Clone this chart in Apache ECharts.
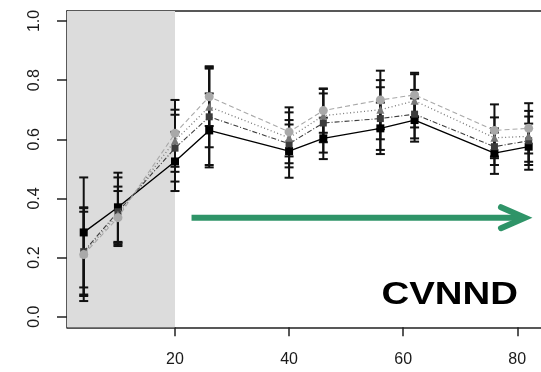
<!DOCTYPE html>
<html>
<head>
<meta charset="utf-8">
<script src="https://cdn.jsdelivr.net/npm/echarts@6/dist/echarts.min.js"></script>
<style>
  html, body { margin: 0; padding: 0; background: #fff; }
  #chart { width: 541px; height: 372px; }
</style>
</head>
<body>
<div id="chart"></div>
<script>
// Sampling times
const times = [4, 10, 20, 26, 40, 46, 56, 62, 76, 82];

// Mean CVNND per treatment, with half-widths of the error bars
const meanA = [0.285, 0.370, 0.525, 0.630, 0.560, 0.603, 0.637, 0.665, 0.553, 0.575];
const errA  = [0.186, 0.117, 0.100, 0.125, 0.090, 0.070, 0.087, 0.073, 0.070, 0.078];
const meanB = [0.220, 0.355, 0.570, 0.676, 0.585, 0.655, 0.670, 0.685, 0.575, 0.595];
const errB  = [0.150, 0.116, 0.113, 0.163, 0.080, 0.100, 0.106, 0.082, 0.062, 0.082];
const meanC = [0.215, 0.345, 0.595, 0.710, 0.605, 0.680, 0.700, 0.730, 0.605, 0.610];
const errC  = [0.140, 0.095, 0.105, 0.137, 0.086, 0.090, 0.100, 0.090, 0.069, 0.086];
const meanD = [0.210, 0.335, 0.620, 0.744, 0.625, 0.697, 0.733, 0.750, 0.630, 0.637];
const errD  = [0.157, 0.090, 0.113, 0.099, 0.083, 0.075, 0.099, 0.075, 0.088, 0.085];

// Axis ticks
const xTicks = [20, 40, 60, 80];
const yTicks = [0, 0.2, 0.4, 0.6, 0.8, 1.0];

// Pre-treatment period (shaded) and the trend arrow
const shadeEnd = 20;
const arrowFrom = 22.9;
const arrowTo = 81.35;
const arrowLevel = 0.335;
const panelLabel = 'CVNND';

const X_MIN = 1.07, X_MAX = 84.16;
const Y_MIN = -0.0358, Y_MAX = 1.0338;

const groups = [
  { mean: meanA, err: errA, color: '#000000', line: 'solid', width: 1.4, symbol: 'rect', size: 8 },
  { mean: meanB, err: errB, color: '#3c3c3c', line: [5, 2, 1, 2], width: 1.1, symbol: 'rect', size: 7 },
  { mean: meanC, err: errC, color: '#777777', line: [1, 2.5], width: 1.3, symbol: 'triangle', size: 8 },
  { mean: meanD, err: errD, color: '#a9a9a9', line: [5, 3], width: 1.1, symbol: 'circle', size: 9 }
];

const series = [];

// shaded region
series.push({
  type: 'line', data: [], z: 1, silent: true,
  markArea: {
    silent: true,
    itemStyle: { color: '#dcdcdc' },
    data: [[{ xAxis: X_MIN }, { xAxis: shadeEnd }]]
  }
});

// error bars
groups.forEach(function (g) {
  series.push({
    type: 'custom', z: 3, silent: true,
    data: times.map(function (t, i) { return [t, g.mean[i], g.err[i]]; }),
    renderItem: function (params, api) {
      const x = api.value(0), m = api.value(1), e = api.value(2);
      const top = api.coord([x, m + e]);
      const bot = api.coord([x, m - e]);
      const hw = 4.5;
      const st = { stroke: '#111', lineWidth: 2 };
      return {
        type: 'group',
        children: [
          { type: 'line', shape: { x1: top[0], y1: top[1], x2: bot[0], y2: bot[1] }, style: st },
          { type: 'line', shape: { x1: top[0] - hw, y1: top[1], x2: top[0] + hw, y2: top[1] }, style: st },
          { type: 'line', shape: { x1: bot[0] - hw, y1: bot[1], x2: bot[0] + hw, y2: bot[1] }, style: st }
        ]
      };
    }
  });
});

// mean lines
groups.forEach(function (g, gi) {
  series.push({
    type: 'line', z: 4 + gi, silent: true,
    data: times.map(function (t, i) { return [t, g.mean[i]]; }),
    symbol: g.symbol, symbolSize: g.size,
    itemStyle: { color: g.color },
    lineStyle: { color: g.color, width: g.width, type: g.line }
  });
});

// trend arrow
series.push({
  type: 'custom', z: 10, silent: true,
  data: [[arrowFrom, arrowTo, arrowLevel]],
  renderItem: function (params, api) {
    const p0 = api.coord([api.value(0), api.value(2)]);
    const p1 = api.coord([api.value(1), api.value(2)]);
    const col = '#2f9468';
    return {
      type: 'group',
      children: [
        { type: 'line', shape: { x1: p0[0], y1: p0[1], x2: p1[0] - 3, y2: p1[1] },
          style: { stroke: col, lineWidth: 6, lineCap: 'butt' } },
        { type: 'polyline', shape: { points: [[p1[0] - 24, p1[1] - 10.5], [p1[0], p1[1]], [p1[0] - 24, p1[1] + 10.5]] },
          style: { stroke: col, lineWidth: 6, lineCap: 'round', lineJoin: 'miter', fill: 'none' } }
      ]
    };
  }
});

const frameLine = { show: true, onZero: false, lineStyle: { color: '#222', width: 1.5 } };

const chart = echarts.init(document.getElementById('chart'), null, { renderer: 'canvas' });
chart.setOption({
  animation: false,
  backgroundColor: '#ffffff',
  textStyle: { fontFamily: 'Liberation Sans, Arial, sans-serif' },
  grid: {
    left: 67, top: 11, right: 0, bottom: 44.7,
    outerBoundsMode: 'none', containLabel: false
  },
  xAxis: [{
    type: 'value', min: X_MIN, max: X_MAX, position: 'bottom',
    splitLine: { show: false },
    axisLine: frameLine,
    axisTick: { show: true, length: 9, customValues: xTicks, lineStyle: { color: '#222', width: 1.5 } },
    axisLabel: { customValues: xTicks, margin: 24, fontSize: 16, color: '#1a1a1a' }
  }, {
    // top edge of the plot frame
    type: 'value', min: X_MIN, max: X_MAX, position: 'top',
    splitLine: { show: false },
    axisLine: frameLine,
    axisTick: { show: false },
    axisLabel: { show: false }
  }],
  yAxis: {
    type: 'value', min: Y_MIN, max: Y_MAX,
    splitLine: { show: false },
    axisLine: frameLine,
    axisTick: { show: true, length: 10, customValues: yTicks, lineStyle: { color: '#222', width: 1.5 } },
    axisLabel: {
      customValues: yTicks, margin: 24, fontSize: 16, color: '#1a1a1a', rotate: 90,
      formatter: function (v) { return v.toFixed(1); }
    }
  },
  graphic: [{
    type: 'text', x: 518, y: 295, scaleX: 1.2, z: 20,
    style: {
      text: panelLabel, align: 'right', verticalAlign: 'middle',
      font: 'bold 32px "Liberation Sans", Arial, sans-serif', fill: '#000'
    }
  }],
  series: series
});
</script>
</body>
</html>
